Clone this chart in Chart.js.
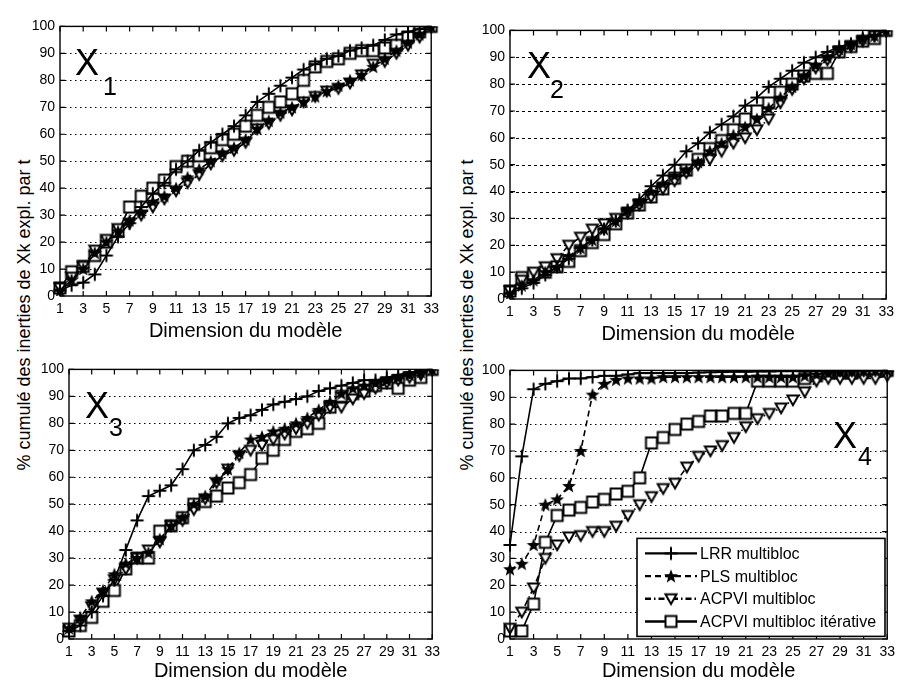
<!DOCTYPE html>
<html>
<head>
<meta charset="utf-8">
<script src="https://cdn.jsdelivr.net/npm/chart.js@4.4.0/dist/chart.umd.min.js"></script>
<style>
  body { margin: 0; background: #fff; width: 900px; height: 684px; position: relative; overflow: hidden; font-family: "Liberation Sans", Arial, sans-serif; }
  canvas { position: absolute; }
  .ytitle { position: absolute; width: 420px; height: 20px; line-height: 20px; text-align: center; font-size: 18px; color: #000; transform: rotate(-90deg); white-space: nowrap; }
</style>
</head>
<body>
<div class="ytitle" style="left:-186px; top:305px;">% cumulé des inerties de Xk expl. par t</div>
<div class="ytitle" style="left:257px; top:305px;">% cumulé des inerties de Xk expl. par t</div>
<canvas id="c1" width="424" height="330" style="left:20px; top:13px;"></canvas>
<canvas id="c2" width="429" height="329" style="left:470px; top:17px;"></canvas>
<canvas id="c3" width="416" height="327" style="left:29px; top:356px;"></canvas>
<canvas id="c4" width="430" height="326" style="left:470px; top:357px;"></canvas>
<script>
// dimension du modèle (axe x)
const dims = [1, 2, 3, 4, 5, 6, 7, 8, 9, 10, 11, 12, 13, 14, 15, 16, 17, 18, 19, 20, 21, 22, 23, 24, 25, 26, 27, 28, 29, 30, 31, 32, 33];
const seriesLabels = ["LRR multibloc", "PLS multibloc", "ACPVI multibloc", "ACPVI multibloc itérative"];
const xTitle = "Dimension du modèle";

// X1
const x1LRR   = [2, 4, 5, 8, 15, 22, 27, 33, 38, 42, 47, 50, 54, 57, 60, 63, 67, 72, 75, 78, 81, 84, 86, 88, 89, 91, 92, 93, 95, 97, 98, 99, 100];
const x1PLS   = [2, 6, 10, 16, 20, 24, 28, 31, 35, 37, 40, 44, 47, 50, 53, 55, 58, 62, 65, 68, 70, 72, 74, 76, 78, 80, 82, 85, 88, 91, 94, 97, 100];
const x1ACPVI = [3, 7, 11, 17, 21, 25, 27, 30, 33, 36, 39, 42, 45, 49, 52, 54, 57, 62, 64, 67, 69, 72, 74, 76, 77, 79, 82, 86, 87, 90, 93, 96, 100];
const x1Iter  = [3, 9, 11, 15, 20, 24, 33, 37, 40, 43, 48, 50, 52, 55, 58, 60, 63, 67, 70, 72, 75, 80, 85, 87, 88, 90, 91, 91, 92, 93, 96, 98, 100];

// X2
const x2LRR   = [2, 4, 6, 9, 12, 15, 19, 22, 26, 29, 33, 37, 42, 46, 50, 55, 58, 62, 65, 68, 72, 75, 79, 82, 85, 88, 90, 92, 94, 95, 97, 98, 100];
const x2PLS   = [2, 5, 7, 10, 12, 16, 19, 22, 26, 29, 33, 36, 40, 43, 46, 48, 51, 55, 58, 61, 64, 67, 71, 75, 79, 83, 87, 90, 93, 95, 97, 98, 100];
const x2ACPVI = [3, 7, 10, 12, 15, 20, 23, 26, 28, 30, 32, 35, 38, 41, 44, 47, 50, 52, 55, 58, 60, 63, 67, 73, 78, 82, 86, 89, 92, 94, 96, 98, 100];
const x2Iter  = [3, 8, 9, 10, 12, 14, 18, 21, 24, 28, 32, 35, 38, 41, 45, 48, 52, 56, 59, 63, 67, 70, 73, 77, 80, 83, 84, 84, 92, 94, 96, 97, 100];

// X3
const x3LRR   = [3, 5, 10, 16, 22, 33, 44, 53, 55, 57, 63, 70, 72, 75, 80, 82, 83, 85, 87, 88, 89, 90, 92, 93, 94, 95, 96, 96, 97, 98, 99, 99, 100];
const x3PLS   = [4, 8, 14, 18, 24, 28, 30, 32, 37, 42, 45, 50, 53, 59, 63, 69, 74, 75, 77, 78, 80, 82, 85, 88, 91, 93, 94, 95, 96, 97, 98, 99, 100];
const x3ACPVI = [4, 7, 12, 17, 22, 26, 30, 33, 36, 42, 44, 48, 52, 58, 63, 68, 70, 72, 74, 76, 78, 80, 83, 86, 86, 89, 91, 93, 95, 96, 97, 98, 100];
const x3Iter  = [3, 5, 8, 14, 18, 26, 30, 30, 40, 42, 45, 50, 51, 53, 56, 58, 61, 67, 70, 74, 77, 78, 80, 86, 90, 91, 92, 94, 95, 93, 96, 97, 100];

// X4
const x4LRR   = [35, 68, 93, 95, 96, 97, 97, 97.5, 98, 98, 98.5, 99, 99, 99, 99, 99, 99.2, 99.3, 99.4, 99.5, 99.5, 99.6, 99.6, 99.7, 99.7, 99.8, 99.8, 99.8, 99.9, 99.9, 99.9, 100, 100];
const x4PLS   = [26, 28, 35, 50, 52, 57, 70, 91, 95, 96.5, 97, 97, 97, 97.5, 97.5, 97.5, 97.5, 97.5, 97.5, 97.5, 97.5, 97.5, 97.5, 97.5, 97.5, 98, 98.5, 99, 99.3, 99.5, 99.7, 99.9, 100];
const x4ACPVI = [4, 10, 19, 30, 35, 38, 38.5, 40, 40, 42, 46, 50, 53, 56, 58, 64, 68, 70, 72, 75, 79, 82, 84, 86, 89, 92, 96, 97, 97, 97, 97, 97, 98];
const x4Iter  = [3, 3, 13, 36, 46, 48, 49, 51, 52, 54, 55, 60, 73, 75, 78, 80, 81, 83, 83, 84, 84, 96, 96, 96, 96, 97, 98, 99, 99, 99, 99.5, 100, 100];

const FONT = '"Liberation Sans", Arial, sans-serif';

// marqueurs dessinés dans de petits canvas
function makeMarker(kind) {
  const c = document.createElement("canvas");
  c.width = 16; c.height = 16;
  const g = c.getContext("2d");
  g.strokeStyle = "#000";
  g.fillStyle = "#fff";
  g.lineWidth = 2;
  g.beginPath();
  if (kind === "plus") {
    g.moveTo(1.5, 8); g.lineTo(14.5, 8);
    g.moveTo(8, 1.5); g.lineTo(8, 14.5);
    g.stroke();
  } else if (kind === "star") {
    for (let i = 0; i < 10; i++) {
      const r = i % 2 === 0 ? 7.3 : 3.1;
      const a = -Math.PI / 2 + i * Math.PI / 5;
      const px = 8 + r * Math.cos(a), py = 8.5 + r * Math.sin(a);
      if (i === 0) g.moveTo(px, py); else g.lineTo(px, py);
    }
    g.closePath();
    g.fillStyle = "#000";
    g.fill();
  } else if (kind === "tri") {
    g.moveTo(2.5, 3.5); g.lineTo(13.5, 3.5); g.lineTo(8, 13.2);
    g.closePath();
    g.fill(); g.stroke();
  } else {
    g.rect(2.5, 2.5, 11, 11);
    g.fill(); g.stroke();
  }
  return c;
}
const markers = { plus: makeMarker("plus"), star: makeMarker("star"), tri: makeMarker("tri"), square: makeMarker("square") };
const dashes = [[], [6, 4], [6, 3, 1.5, 3], []];
const markerList = [markers.plus, markers.star, markers.tri, markers.square];

function makeDatasets(series) {
  return series.map((data, i) => ({
    label: seriesLabels[i],
    data: data,
    borderColor: "#000",
    backgroundColor: "#000",
    borderWidth: 1.6,
    borderDash: dashes[i],
    pointStyle: markerList[i],
    pointRadius: 6,
    tension: 0,
    fill: false
  }));
}

// grille, cadre, graduations internes, étiquette Xk, légende
const decor = {
  id: "decor",
  beforeDatasetsDraw(chart, args, o) {
    const { ctx, chartArea: a, scales: { y } } = chart;
    ctx.save();
    ctx.strokeStyle = "#000";
    ctx.lineWidth = 1;
    ctx.setLineDash(o.gridDash);
    for (let v = 10; v < 100; v += 10) {
      const py = Math.round(y.getPixelForValue(v)) + 0.5;
      ctx.beginPath(); ctx.moveTo(a.left, py); ctx.lineTo(a.right, py); ctx.stroke();
    }
    ctx.restore();
  },
  afterDraw(chart, args, o) {
    const { ctx, chartArea: a, scales: { x, y } } = chart;
    ctx.save();
    ctx.strokeStyle = "#000";
    ctx.lineWidth = 1.4;
    ctx.setLineDash([]);
    ctx.strokeRect(a.left, a.top, a.right - a.left, a.bottom - a.top);
    ctx.lineWidth = 1.2;
    ctx.beginPath();
    for (let i = 0; i < dims.length; i += 2) {
      const px = x.getPixelForValue(i);
      ctx.moveTo(px, a.bottom); ctx.lineTo(px, a.bottom - 5);
      ctx.moveTo(px, a.top); ctx.lineTo(px, a.top + 5);
    }
    for (let v = 0; v <= 100; v += 10) {
      const py = y.getPixelForValue(v);
      ctx.moveTo(a.left, py); ctx.lineTo(a.left + 5, py);
      ctx.moveTo(a.right, py); ctx.lineTo(a.right - 5, py);
    }
    ctx.stroke();

    // étiquette du bloc
    ctx.fillStyle = "#000";
    ctx.textBaseline = "alphabetic";
    ctx.textAlign = "left";
    ctx.font = "36px " + FONT;
    ctx.fillText("X", a.left + o.lx, a.top + o.ly);
    ctx.font = "25px " + FONT;
    ctx.fillText(o.sub, a.left + o.sx, a.top + o.sy);

    if (o.legend) {
      const L = o.legend;
      const bx = a.left + L.x, by = a.top + L.y;
      ctx.fillStyle = "#fff";
      ctx.fillRect(bx, by, L.w, L.h);
      ctx.lineWidth = 1.6;
      ctx.strokeRect(bx, by, L.w, L.h);
      ctx.font = "16px " + FONT;
      ctx.textBaseline = "middle";
      chart.data.datasets.forEach((ds, i) => {
        const ry = by + 15 + i * 22.7;
        ctx.lineWidth = 2.4;
        ctx.setLineDash(ds.borderDash);
        ctx.beginPath(); ctx.moveTo(bx + 8, ry); ctx.lineTo(bx + 60, ry); ctx.stroke();
        ctx.setLineDash([]);
        ctx.drawImage(ds.pointStyle, bx + 34 - 8, ry - 8);
        ctx.fillStyle = "#000";
        ctx.fillText(ds.label, bx + 63, ry + 1);
      });
    }
    ctx.restore();
  }
};

function makeChart(id, series, opts) {
  new Chart(document.getElementById(id), {
    type: "line",
    data: { labels: dims, datasets: makeDatasets(series) },
    plugins: [decor],
    options: {
      responsive: false,
      animation: false,
      devicePixelRatio: 1,
      layout: { padding: { top: 10, right: opts.padRight, left: 0, bottom: 0 } },
      plugins: {
        legend: { display: false },
        tooltip: { enabled: false },
        decor: opts.decor
      },
      scales: {
        x: {
          type: "category",
          offset: false,
          grid: { display: false, drawTicks: false },
          border: { display: false },
          ticks: {
            autoSkip: false, maxRotation: 0, minRotation: 0, padding: 5,
            color: "#000", font: { family: FONT, size: 14 },
            callback: (v, i) => (i % 2 === 0 ? String(dims[i]) : "")
          },
          title: { display: true, text: xTitle, color: "#000", font: { family: FONT, size: 20 }, padding: 0 },
          afterFit: (s) => { s.height = opts.xh; }
        },
        y: {
          min: 0, max: 100,
          grid: { display: false, drawTicks: false },
          border: { display: false },
          ticks: { stepSize: 10, padding: 5, color: "#000", font: { family: FONT, size: 14 } },
          afterFit: (s) => { s.width = 40; }
        }
      }
    }
  });
}

makeChart("c1", [x1LRR, x1PLS, x1ACPVI, x1Iter], {
  padRight: 12, xh: 47,
  decor: { gridDash: [1.5, 3.5], sub: "1", lx: 15, ly: 49, sx: 43, sy: 69 }
});
makeChart("c2", [x2LRR, x2PLS, x2ACPVI, x2Iter], {
  padRight: 12, xh: 47,
  decor: { gridDash: [3, 3], sub: "2", lx: 17, ly: 48, sx: 40, sy: 68 }
});
makeChart("c3", [x3LRR, x3PLS, x3ACPVI, x3Iter], {
  padRight: 12, xh: 44,
  decor: { gridDash: [1.5, 3.5], sub: "3", lx: 16, ly: 49, sx: 40, sy: 67 }
});
makeChart("c4", [x4LRR, x4PLS, x4ACPVI, x4Iter], {
  padRight: 7, xh: 44,
  decor: { gridDash: [1.5, 3.5], sub: "4", lx: 323, ly: 78, sx: 348, sy: 95,
           legend: { x: 127, y: 168, w: 248, h: 98 } }
});
</script>
</body>
</html>
